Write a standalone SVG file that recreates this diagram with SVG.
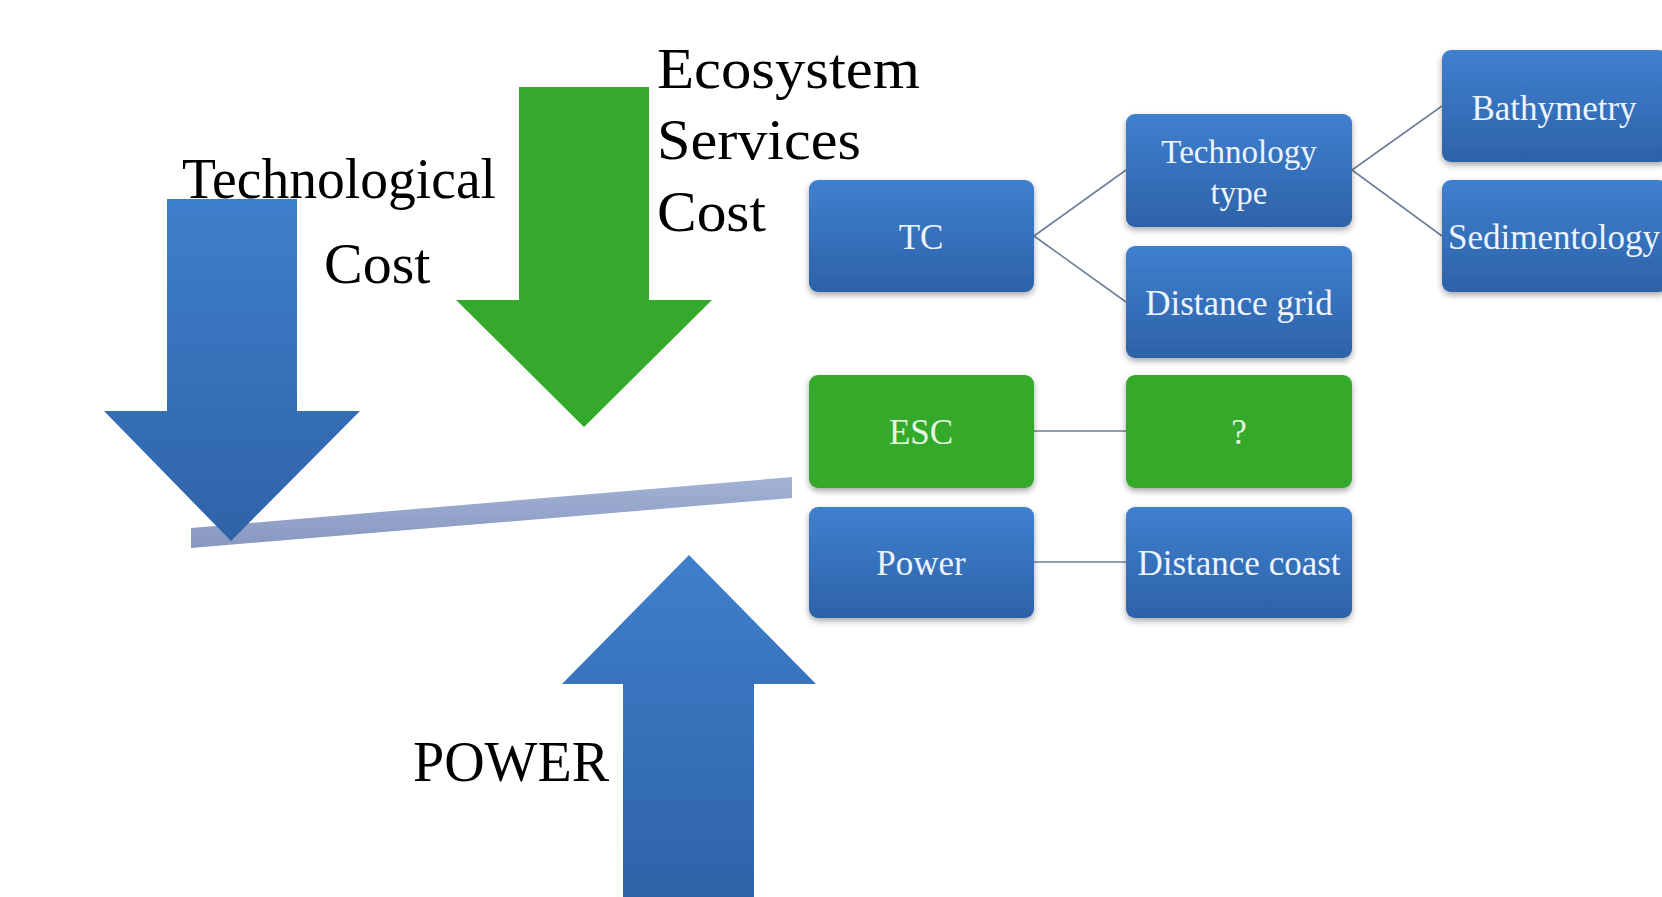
<svg xmlns="http://www.w3.org/2000/svg" width="1662" height="897" viewBox="0 0 1662 897">
  <defs>
    <linearGradient id="blueFill" x1="0" y1="0" x2="0" y2="1">
      <stop offset="0" stop-color="#3F80CF"/>
      <stop offset="1" stop-color="#2D62A8"/>
    </linearGradient>
    <linearGradient id="arrowBlue" x1="0" y1="0" x2="0" y2="1">
      <stop offset="0" stop-color="#3E7FCB"/>
      <stop offset="1" stop-color="#2F63A8"/>
    </linearGradient>
    <linearGradient id="beamFill" x1="0" y1="0" x2="0" y2="1">
      <stop offset="0" stop-color="#A3B3D6"/>
      <stop offset="1" stop-color="#8797C0"/>
    </linearGradient>
    <filter id="shadow" x="-10%" y="-10%" width="120%" height="130%">
      <feDropShadow dx="0" dy="3" stdDeviation="3" flood-color="#000" flood-opacity="0.35"/>
    </filter>
    <style>
      .label { font-family: "Liberation Serif", "Times New Roman", serif; font-size: 58px; fill: #000; }
      .box { filter: url(#shadow); }
      .blue { fill: url(#blueFill); }
      .green { fill: #35A92B; }
      .boxtext { font-family: "Liberation Serif", "Times New Roman", serif; font-size: 35px; fill: #EEF4FF; text-anchor: middle; }
      .twoline { font-size: 33px; }
      .greentext { fill: #E6F6E0; }
      .link { stroke: #6F7F99; stroke-width: 1.6; fill: none; }
    </style>
  </defs>

  <rect width="1662" height="897" fill="#FFFFFF"/>

  <!-- balance beam and force arrows -->
  <g id="balance">
    <polygon points="191,528 792,477 792,498 191,548" fill="url(#beamFill)"/>
    <polygon id="arrow-tc" points="167,199 297,199 297,411 360,411 231,541 104,411 167,411" fill="url(#arrowBlue)"/>
    <polygon id="arrow-esc" points="519,87 649,87 649,300 712,300 584,427 456,300 519,300" fill="#35A92B"/>
    <polygon id="arrow-power" points="689,555 816,684 754,684 754,897 623,897 623,684 562,684" fill="url(#arrowBlue)"/>
  </g>

  <!-- labels beside the arrows -->
  <g id="labels">
    <text class="label" x="182" y="198" textLength="314" lengthAdjust="spacingAndGlyphs">Technological</text>
    <text class="label" x="324" y="283">Cost</text>
    <text class="label" x="657" y="88" textLength="263" lengthAdjust="spacingAndGlyphs">Ecosystem</text>
    <text class="label" x="657" y="159" textLength="204" lengthAdjust="spacingAndGlyphs">Services</text>
    <text class="label" x="657" y="231" textLength="109" lengthAdjust="spacingAndGlyphs">Cost</text>
    <text class="label" x="413" y="781" textLength="196" lengthAdjust="spacingAndGlyphs">POWER</text>
  </g>

  <!-- tree connectors -->
  <g id="connectors">
    <line class="link" x1="1034" y1="236" x2="1126" y2="170"/>
    <line class="link" x1="1034" y1="236" x2="1126" y2="302"/>
    <line class="link" x1="1352" y1="170" x2="1442" y2="106"/>
    <line class="link" x1="1352" y1="170" x2="1442" y2="236"/>
    <line class="link" x1="1034" y1="431" x2="1126" y2="431"/>
    <line class="link" x1="1034" y1="562" x2="1126" y2="562"/>
  </g>

  <!-- tree nodes -->
  <g id="node-tc">
    <rect class="box blue" x="809" y="180" width="225" height="112" rx="9"/>
    <text class="boxtext" x="921" y="249">TC</text>
  </g>
  <g id="node-technology-type">
    <rect class="box blue" x="1126" y="114" width="226" height="113" rx="9"/>
    <text class="boxtext twoline" x="1239" y="163">Technology</text>
    <text class="boxtext twoline" x="1239" y="204">type</text>
  </g>
  <g id="node-distance-grid">
    <rect class="box blue" x="1126" y="246" width="226" height="112" rx="9"/>
    <text class="boxtext" x="1239" y="315">Distance grid</text>
  </g>
  <g id="node-bathymetry">
    <rect class="box blue" x="1442" y="50" width="226" height="112" rx="9"/>
    <text class="boxtext" x="1554" y="120">Bathymetry</text>
  </g>
  <g id="node-sedimentology">
    <rect class="box blue" x="1442" y="180" width="226" height="112" rx="9"/>
    <text class="boxtext" x="1554" y="249">Sedimentology</text>
  </g>
  <g id="node-esc">
    <rect class="box green" x="809" y="375" width="225" height="113" rx="9"/>
    <text class="boxtext greentext" x="921" y="444">ESC</text>
  </g>
  <g id="node-unknown">
    <rect class="box green" x="1126" y="375" width="226" height="113" rx="9"/>
    <text class="boxtext greentext" x="1239" y="444">?</text>
  </g>
  <g id="node-power">
    <rect class="box blue" x="809" y="507" width="225" height="111" rx="9"/>
    <text class="boxtext" x="921" y="575">Power</text>
  </g>
  <g id="node-distance-coast">
    <rect class="box blue" x="1126" y="507" width="226" height="111" rx="9"/>
    <text class="boxtext" x="1239" y="575">Distance coast</text>
  </g>
</svg>
